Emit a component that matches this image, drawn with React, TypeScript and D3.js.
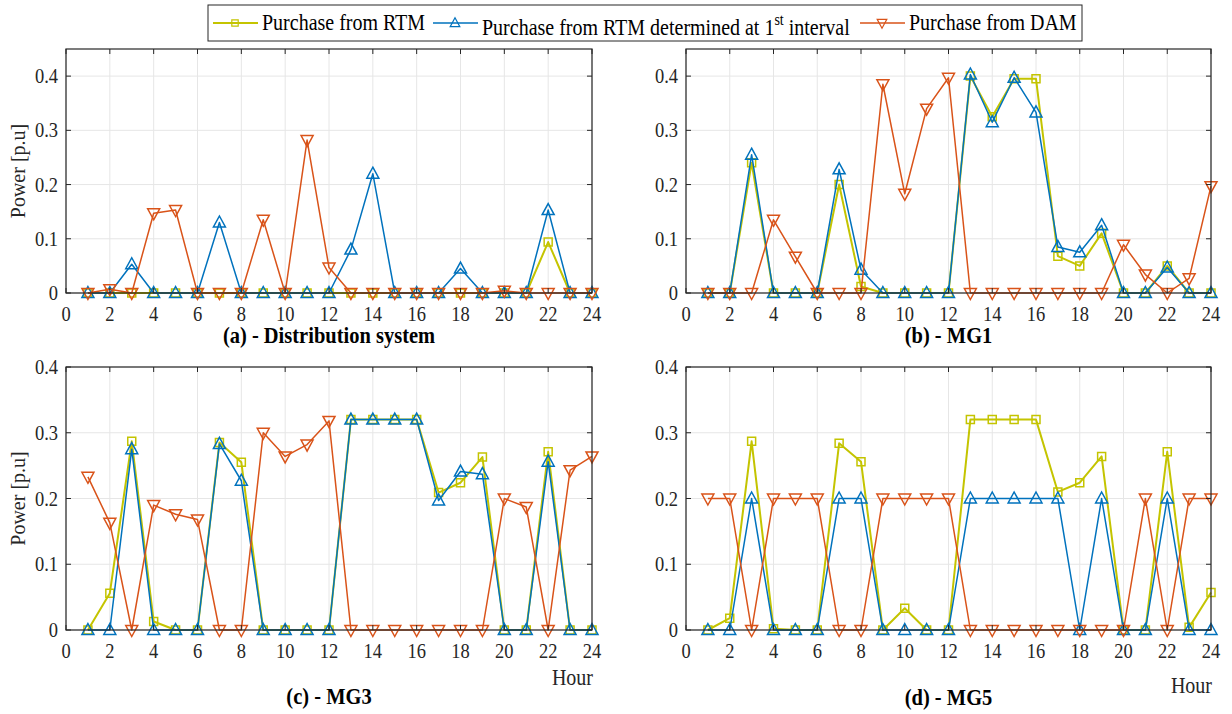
import React from "react";
import * as d3 from "d3";

const hours = [1, 2, 3, 4, 5, 6, 7, 8, 9, 10, 11, 12, 13, 14, 15, 16, 17, 18, 19, 20, 21, 22, 23, 24];
const xTicks = [0, 2, 4, 6, 8, 10, 12, 14, 16, 18, 20, 22, 24];
const yTicks = [0, 0.1, 0.2, 0.3, 0.4];

const seriesNames = [
  "Purchase from RTM",
  "Purchase from RTM determined at 1st interval",
  "Purchase from DAM",
];

// (a) Distribution system
const distRTM = [0, 0, 0, 0, 0, 0, 0, 0, 0, 0, 0, 0, 0, 0, 0, 0, 0, 0, 0, 0, 0, 0.094, 0, 0];
const distFirst = [0, 0, 0.053, 0, 0, 0, 0.13, 0, 0, 0, 0, 0, 0.08, 0.22, 0, 0, 0, 0.045, 0, 0, 0, 0.153, 0, 0];
const distDAM = [0, 0.007, 0, 0.147, 0.153, 0, 0, 0, 0.135, 0, 0.282, 0.047, 0, 0, 0, 0, 0, 0, 0, 0.004, 0, 0, 0, 0];

// (b) MG1
const mg1RTM = [0, 0, 0.24, 0, 0, 0, 0.2, 0.012, 0, 0, 0, 0, 0.4, 0.325, 0.395, 0.395, 0.068, 0.05, 0.11, 0, 0, 0.05, 0, 0];
const mg1First = [0, 0, 0.255, 0, 0, 0, 0.228, 0.043, 0, 0, 0, 0, 0.403, 0.315, 0.397, 0.333, 0.085, 0.075, 0.125, 0, 0, 0.047, 0, 0];
const mg1DAM = [0, 0, 0, 0.135, 0.067, 0, 0, 0, 0.385, 0.183, 0.34, 0.397, 0, 0, 0, 0, 0, 0, 0, 0.089, 0.034, 0, 0.027, 0.197];

// (c) MG3
const mg3RTM = [0, 0.056, 0.287, 0.013, 0, 0, 0.285, 0.255, 0, 0, 0, 0, 0.32, 0.32, 0.32, 0.32, 0.209, 0.224, 0.263, 0, 0, 0.271, 0, 0];
const mg3First = [0, 0, 0.275, 0, 0, 0, 0.283, 0.227, 0, 0, 0, 0, 0.32, 0.32, 0.32, 0.32, 0.197, 0.241, 0.237, 0, 0, 0.256, 0, 0];
const mg3DAM = [0.233, 0.163, 0, 0.19, 0.176, 0.168, 0, 0, 0.3, 0.264, 0.282, 0.318, 0, 0, 0, 0, 0, 0, 0, 0.2, 0.187, 0, 0.243, 0.264];

// (d) MG5
const mg5RTM = [0, 0.018, 0.287, 0.002, 0, 0, 0.284, 0.256, 0, 0.033, 0, 0, 0.32, 0.32, 0.32, 0.32, 0.21, 0.224, 0.264, 0, 0, 0.271, 0.004, 0.057];
const mg5First = [0, 0, 0.2, 0, 0, 0, 0.2, 0.2, 0, 0, 0, 0, 0.2, 0.2, 0.2, 0.2, 0.2, 0, 0.2, 0, 0, 0.2, 0, 0];
const mg5DAM = [0.2, 0.2, 0, 0.2, 0.2, 0.2, 0, 0, 0.2, 0.2, 0.2, 0.2, 0, 0, 0, 0, 0, 0, 0, 0, 0.2, 0, 0.2, 0.2];

const C_RTM = "#c4c400";
const C_FIRST = "#0072bd";
const C_DAM = "#d95319";
const AXIS = "#262626";
const GRID = "#e6e6e6";
const FONT = "'Liberation Serif', 'Times New Roman', serif";
const SY = 1.12; // vertical stretch of text as in the reference

type Marker = "square" | "up" | "down";

function markerPath(kind: Marker): string {
  if (kind === "square") return "M-4,-4L4,-4L4,4L-4,4Z";
  if (kind === "up") return "M0,-6.5L6,4.5L-6,4.5Z";
  return "M0,6.5L6,-4.5L-6,-4.5Z";
}

interface PanelProps {
  left: number;
  top: number;
  right: number;
  bottom: number;
  yMax: number;
  rtm: number[];
  first: number[];
  dam: number[];
  title: string;
  titleY: number;
  showYLabel: boolean;
  hourY: number | null;
}

function Panel(p: PanelProps) {
  const x = d3.scaleLinear().domain([0, 24]).range([p.left, p.right]);
  const y = d3.scaleLinear().domain([0, p.yMax]).range([p.bottom, p.top]);
  const line = d3
    .line<number>()
    .x((_, i) => x(hours[i]))
    .y((d) => y(d));
  const series: { data: number[]; color: string; marker: Marker; width: number }[] = [
    { data: p.rtm, color: C_RTM, marker: "square", width: 2 },
    { data: p.first, color: C_FIRST, marker: "up", width: 1.5 },
    { data: p.dam, color: C_DAM, marker: "down", width: 1.5 },
  ];
  const tl = 5;
  const fmt = (v: number) => (v === 0 ? "0" : d3.format(".1f")(v));
  return (
    <g>
      {xTicks.map((t) => (
        <line key={"gx" + t} x1={x(t)} x2={x(t)} y1={p.top} y2={p.bottom} stroke={GRID} strokeWidth={1} />
      ))}
      {yTicks.map((t) => (
        <line key={"gy" + t} x1={p.left} x2={p.right} y1={y(t)} y2={y(t)} stroke={GRID} strokeWidth={1} />
      ))}
      {series.map((s, k) => (
        <g key={"s" + k}>
          <path d={line(s.data) || ""} fill="none" stroke={s.color} strokeWidth={s.width} strokeLinejoin="round" />
          {s.data.map((v, i) => (
            <path
              key={i}
              d={markerPath(s.marker)}
              transform={`translate(${x(hours[i])},${y(v)})`}
              fill="none"
              stroke={s.color}
              strokeWidth={1.5}
            />
          ))}
        </g>
      ))}
      <rect x={p.left} y={p.top} width={p.right - p.left} height={p.bottom - p.top} fill="none" stroke={AXIS} strokeWidth={1.2} />
      {xTicks.map((t) => (
        <g key={"tx" + t}>
          <line x1={x(t)} x2={x(t)} y1={p.bottom} y2={p.bottom - tl} stroke={AXIS} />
          <line x1={x(t)} x2={x(t)} y1={p.top} y2={p.top + tl} stroke={AXIS} />
          <text transform={`translate(${x(t)},${p.bottom + 28}) scale(1,${SY})`} textAnchor="middle" fontSize={18.5} fontFamily={FONT} fill={AXIS}>
            {t}
          </text>
        </g>
      ))}
      {yTicks.map((t) => (
        <g key={"ty" + t}>
          <line x1={p.left} x2={p.left + tl} y1={y(t)} y2={y(t)} stroke={AXIS} />
          <line x1={p.right} x2={p.right - tl} y1={y(t)} y2={y(t)} stroke={AXIS} />
          <text transform={`translate(${p.left - 8},${y(t) + 7}) scale(1,${SY})`} textAnchor="end" fontSize={18.5} fontFamily={FONT} fill={AXIS}>
            {fmt(t)}
          </text>
        </g>
      ))}
      {p.showYLabel && (
        <text
          transform={`translate(25,${(p.top + p.bottom) / 2}) rotate(-90) scale(1,1.08)`}
          textAnchor="middle"
          fontSize={20}
          fontFamily={FONT}
          fill={AXIS}
        >
          Power [p.u]
        </text>
      )}
      {p.hourY !== null && (
        <text transform={`translate(${p.right + 1},${p.hourY}) scale(1,${SY})`} textAnchor="end" fontSize={20} fontFamily={FONT} fill={AXIS}>
          Hour
        </text>
      )}
      <text
        transform={`translate(${(p.left + p.right) / 2},${p.titleY}) scale(1,${SY})`}
        textAnchor="middle"
        fontSize={20.5}
        fontWeight="bold"
        fontFamily={FONT}
        fill="#000"
      >
        {p.title}
      </text>
    </g>
  );
}

function Legend() {
  const colors = [C_RTM, C_FIRST, C_DAM];
  const markers: Marker[] = ["square", "up", "down"];
  const lineX = [213, 433, 860];
  const textX = [262, 482, 909];
  return (
    <g>
      <rect x={208} y={5} width={874} height={36} fill="#fff" stroke="#262626" strokeWidth={1} />
      {colors.map((c, i) => (
        <g key={i}>
          <line x1={lineX[i]} x2={lineX[i] + 45} y1={23} y2={23} stroke={c} strokeWidth={i === 0 ? 2 : 1.5} />
          <path
            d={markerPath(markers[i])}
            transform={`translate(${lineX[i] + 22},23) scale(0.8)`}
            fill="none"
            stroke={c}
            strokeWidth={1.5}
          />
        </g>
      ))}
      <text transform={`translate(${textX[0]},30) scale(1,${SY})`} fontSize={20} fontFamily={FONT} fill="#000">
        {seriesNames[0]}
      </text>
      <text transform={`translate(${textX[1]},35) scale(1,${SY})`} fontSize={20} fontFamily={FONT} fill="#000">
        Purchase from RTM determined at 1
        <tspan dy={-9} fontSize={14}>st</tspan>
        <tspan dy={9}> interval</tspan>
      </text>
      <text transform={`translate(${textX[2]},30) scale(1,${SY})`} fontSize={20} fontFamily={FONT} fill="#000">
        {seriesNames[2]}
      </text>
    </g>
  );
}

export default function App() {
  return (
    <svg
      width={1232}
      height={714}
      style={{ position: "absolute", left: 0, top: 0, background: "#fff" }}
      fontFamily={FONT}
    >
      <rect x={0} y={0} width={1232} height={714} fill="#fff" />
      <Panel left={66} right={592} top={49} bottom={293} yMax={0.45} rtm={distRTM} first={distFirst} dam={distDAM}
        title="(a) - Distribution system" titleY={343} showYLabel={true} hourY={null} />
      <Panel left={686} right={1211} top={49} bottom={293} yMax={0.45} rtm={mg1RTM} first={mg1First} dam={mg1DAM}
        title="(b) - MG1" titleY={343} showYLabel={false} hourY={null} />
      <Panel left={66} right={592} top={367} bottom={630} yMax={0.4} rtm={mg3RTM} first={mg3First} dam={mg3DAM}
        title="(c) - MG3" titleY={704} showYLabel={true} hourY={685} />
      <Panel left={686} right={1211} top={367} bottom={630} yMax={0.4} rtm={mg5RTM} first={mg5First} dam={mg5DAM}
        title="(d) - MG5" titleY={705} showYLabel={false} hourY={693} />
      <Legend />
    </svg>
  );
}
